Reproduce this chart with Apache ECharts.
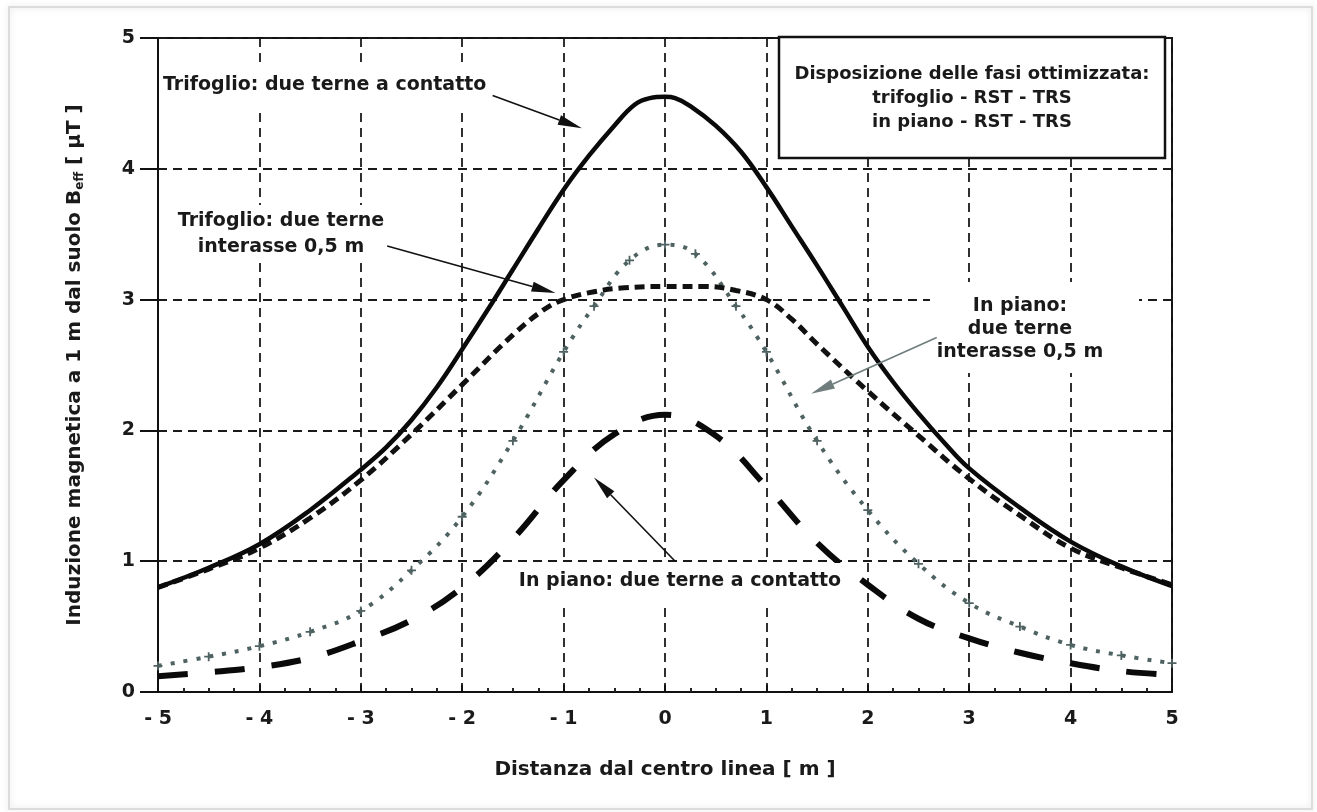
<!DOCTYPE html>
<html>
<head>
<meta charset="utf-8">
<script src="https://cdn.jsdelivr.net/npm/echarts@6/dist/echarts.min.js"></script>
<style>
  html, body { margin: 0; padding: 0; background: #ffffff; }
  #chart { width: 1317px; height: 812px; }
</style>
</head>
<body>
<div id="chart"></div>
<script>
// ---------------- DATA ----------------
const xTickLabels = ['- 5', '- 4', '- 3', '- 2', '- 1', '0', '1', '2', '3', '4', '5'];
const yTickLabels = ['0', '1', '2', '3', '4', '5'];

// Trifoglio: due terne a contatto (solid)
const trifoglioContatto = [
  [-5, 0.80], [-4.5, 0.95], [-4, 1.13], [-3.5, 1.39], [-3, 1.70], [-2.75, 1.87], [-2.5, 2.08],
  [-2.25, 2.33], [-2, 2.62], [-1.75, 2.92], [-1.5, 3.23], [-1.25, 3.54], [-1, 3.84], [-0.75, 4.10],
  [-0.5, 4.33], [-0.3, 4.49], [-0.15, 4.54], [0, 4.55], [0.1, 4.54], [0.25, 4.48], [0.5, 4.33],
  [0.75, 4.13], [1, 3.86], [1.25, 3.56], [1.5, 3.26], [1.75, 2.95], [2, 2.64], [2.25, 2.37],
  [2.5, 2.13], [2.75, 1.91], [3, 1.71], [3.5, 1.41], [4, 1.15], [4.5, 0.96], [5, 0.81]
];
// Trifoglio: due terne interasse 0,5 m (dashed)
const trifoglioInterasse = [
  [-5, 0.80], [-4.5, 0.94], [-4, 1.10], [-3.5, 1.33], [-3, 1.62], [-2.5, 1.97], [-2, 2.35],
  [-1.5, 2.73], [-1.2, 2.92], [-1, 3.00], [-0.7, 3.06], [-0.4, 3.09], [0, 3.10], [0.4, 3.10],
  [0.7, 3.07], [1, 3.00], [1.25, 2.85], [1.5, 2.66], [2, 2.30], [2.5, 1.96], [3, 1.63],
  [3.5, 1.35], [4, 1.10], [4.5, 0.95], [5, 0.82]
];
// In piano: due terne interasse 0,5 m (grey dotted +)
const pianoInterasse = [
  [-5, 0.20], [-4.5, 0.27], [-4, 0.35], [-3.5, 0.46], [-3, 0.62], [-2.5, 0.93], [-2, 1.34],
  [-1.5, 1.92], [-1, 2.60], [-0.7, 2.95], [-0.35, 3.30], [0, 3.42], [0.3, 3.35], [0.7, 2.95],
  [1, 2.60], [1.5, 1.92], [2, 1.39], [2.5, 0.98], [3, 0.68], [3.5, 0.50], [4, 0.36],
  [4.5, 0.28], [5, 0.22]
];
// In piano: due terne a contatto (long dashes)
const pianoContatto = [
  [-5, 0.12], [-4.5, 0.15], [-4, 0.19], [-3.5, 0.26], [-3, 0.39], [-2.5, 0.55], [-2, 0.80],
  [-1.5, 1.17], [-1, 1.62], [-0.5, 1.97], [0, 2.12], [0.5, 1.96], [1, 1.57], [1.5, 1.14],
  [2, 0.82], [2.5, 0.56], [3, 0.41], [3.5, 0.30], [4, 0.22], [4.5, 0.16], [5, 0.13]
];

// annotation texts and arrows (arrows in data coordinates: tail -> tip)
const legendLines = ['Disposizione delle fasi ottimizzata:', 'trifoglio - RST - TRS', 'in piano - RST - TRS'];
const labelTrifoglioContatto = ['Trifoglio: due terne a contatto'];
const labelTrifoglioInterasse = ['Trifoglio: due terne', 'interasse 0,5 m'];
const labelPianoInterasse = ['In piano:', 'due terne', 'interasse 0,5 m'];
const labelPianoContatto = ['In piano: due terne a contatto'];
const arrows = [
  { from: [-1.70, 4.56], to: [-0.82, 4.31], color: '#111' },
  { from: [-2.74, 3.41], to: [-1.08, 3.05], color: '#111' },
  { from: [2.68, 2.71], to: [1.44, 2.28], color: '#6f7d7d' },
  { from: [0.10, 1.00], to: [-0.70, 1.64], color: '#111' }
];

// ---------------- CHART ----------------
const FONT = '"DejaVu Sans", "Liberation Sans", Arial, sans-serif';
const chart = echarts.init(document.getElementById('chart'), null, { renderer: 'canvas' });

const axisText = { color: '#1a1a1a', fontFamily: FONT, fontWeight: 'bold', fontSize: 19 };
const gridLine = { show: true, lineStyle: { color: '#1a1a1a', width: 1.8, type: [9, 6] } };
const plusSymbol = 'path://M4,0 L6,0 L6,4 L10,4 L10,6 L6,6 L6,10 L4,10 L4,6 L0,6 L0,4 L4,4 Z';

const option = {
  backgroundColor: '#ffffff',
  animation: false,
  grid: { left: 158, right: 145, top: 38, bottom: 120, show: true, borderColor: '#111', borderWidth: 2, backgroundColor: 'transparent' },
  xAxis: {
    type: 'value', min: -5, max: 5, interval: 1,
    name: 'Distanza dal centro linea [ m ]', nameLocation: 'middle', nameGap: 68,
    nameTextStyle: Object.assign({}, axisText, { fontSize: 20 }),
    axisLine: { show: true, onZero: false, lineStyle: { color: '#111', width: 2 } },
    axisTick: { show: true, inside: true, length: 7, lineStyle: { color: '#111', width: 2 } },
    minorTick: { show: true, splitNumber: 4, length: 4, lineStyle: { color: '#222', width: 2 } },
    axisLabel: Object.assign({}, axisText, { margin: 18, formatter: v => xTickLabels[Math.round(v) + 5] }),
    splitLine: gridLine
  },
  yAxis: {
    type: 'value', min: 0, max: 5, interval: 1,
    name: 'Induzione magnetica a 1 m dal suolo B{s|eff} [ μT ]', nameLocation: 'middle', nameGap: 72,
    nameRotate: 90,
    nameTextStyle: Object.assign({}, axisText, { fontSize: 20, rich: { s: { fontFamily: FONT, fontWeight: 'bold', fontSize: 12, color: '#1a1a1a', padding: [10, 0, 0, 0] } } }),
    axisLine: { show: true, onZero: false, lineStyle: { color: '#111', width: 2 } },
    axisTick: { show: true, inside: false, length: 18, lineStyle: { color: '#111', width: 2 } },
    axisLabel: Object.assign({}, axisText, { margin: 23, formatter: v => yTickLabels[Math.round(v)] }),
    splitLine: gridLine
  },
  series: [
    {
      name: 'Trifoglio: due terne a contatto', type: 'line', data: trifoglioContatto,
      smooth: 0.4, showSymbol: false, z: 5,
      lineStyle: { color: '#0a0a0a', width: 4.5 }
    },
    {
      name: 'Trifoglio: due terne interasse 0,5 m', type: 'line', data: trifoglioInterasse,
      smooth: 0.4, showSymbol: false, z: 4,
      lineStyle: { color: '#111', width: 5, type: [10, 6] }
    },
    {
      name: 'In piano: due terne interasse 0,5 m', type: 'line', data: pianoInterasse,
      smooth: 0.4, showSymbol: true, symbol: plusSymbol, symbolSize: 9, z: 3,
      itemStyle: { color: '#4f6262' },
      lineStyle: { color: '#4f6262', width: 4, type: [4, 9] }
    },
    {
      name: 'In piano: due terne a contatto', type: 'line', data: pianoContatto,
      smooth: 0.4, showSymbol: false, z: 3,
      lineStyle: { color: '#0a0a0a', width: 6, type: [30, 27] }
    }
  ]
};
chart.setOption(option);

// ---------------- ANNOTATIONS ----------------
function textLines(lines, cx, firstY, step, size, align) {
  return lines.map((t, i) => ({
    type: 'text', z: 101,
    style: {
      text: t, x: cx, y: firstY + i * step,
      align: align || 'center', verticalAlign: 'middle',
      textAlign: align || 'center', textVerticalAlign: 'middle',
      font: 'bold ' + size + 'px ' + FONT, fill: '#1a1a1a'
    }
  }));
}
function whiteBox(x, y, w, h) {
  return { type: 'rect', z: 100, shape: { x: x, y: y, width: w, height: h }, style: { fill: '#ffffff', stroke: null } };
}
function arrowEls(a) {
  const p0 = chart.convertToPixel({ gridIndex: 0 }, a.from);
  const p1 = chart.convertToPixel({ gridIndex: 0 }, a.to);
  const dx = p1[0] - p0[0], dy = p1[1] - p0[1];
  const len = Math.sqrt(dx * dx + dy * dy);
  const ux = dx / len, uy = dy / len;
  const headL = 24, headW = 5;
  const bx = p1[0] - ux * headL, by = p1[1] - uy * headL;
  return [
    { type: 'line', z: 102, shape: { x1: p0[0], y1: p0[1], x2: bx, y2: by }, style: { stroke: a.color, lineWidth: 1.6 } },
    { type: 'polygon', z: 102, shape: { points: [[p1[0], p1[1]], [bx - uy * headW, by + ux * headW], [bx + uy * headW, by - ux * headW]] }, style: { fill: a.color } }
  ];
}

let graphics = [];
// outer page frame
graphics.push({ type: 'rect', z: 0, silent: true, shape: { x: 9, y: 7, width: 1303, height: 802 },
  style: { fill: 'rgba(0,0,0,0)', stroke: '#d4d4d4', lineWidth: 1.5, shadowBlur: 6, shadowColor: 'rgba(0,0,0,0.18)' } });
// legend-like box
graphics.push({ type: 'rect', z: 100, shape: { x: 779, y: 37, width: 386, height: 121 }, style: { fill: '#ffffff', stroke: '#111', lineWidth: 2.5 } });
graphics = graphics.concat(textLines(legendLines, 972, 74, 24, 18));
// text labels on white boxes
graphics.push(whiteBox(162, 63, 338, 45));
graphics = graphics.concat(textLines(labelTrifoglioContatto, 163, 85, 25, 19, 'left'));
graphics.push(whiteBox(176, 205, 212, 57));
graphics = graphics.concat(textLines(labelTrifoglioInterasse, 281, 221, 26, 19));
graphics.push(whiteBox(930, 282, 209, 91));
graphics = graphics.concat(textLines(labelPianoInterasse, 1020, 306, 23, 19));
graphics.push(whiteBox(520, 563, 320, 44));
graphics = graphics.concat(textLines(labelPianoContatto, 680, 581, 25, 19));
// arrows
arrows.forEach(a => { graphics = graphics.concat(arrowEls(a)); });

chart.setOption({ graphic: graphics });
</script>
</body>
</html>
